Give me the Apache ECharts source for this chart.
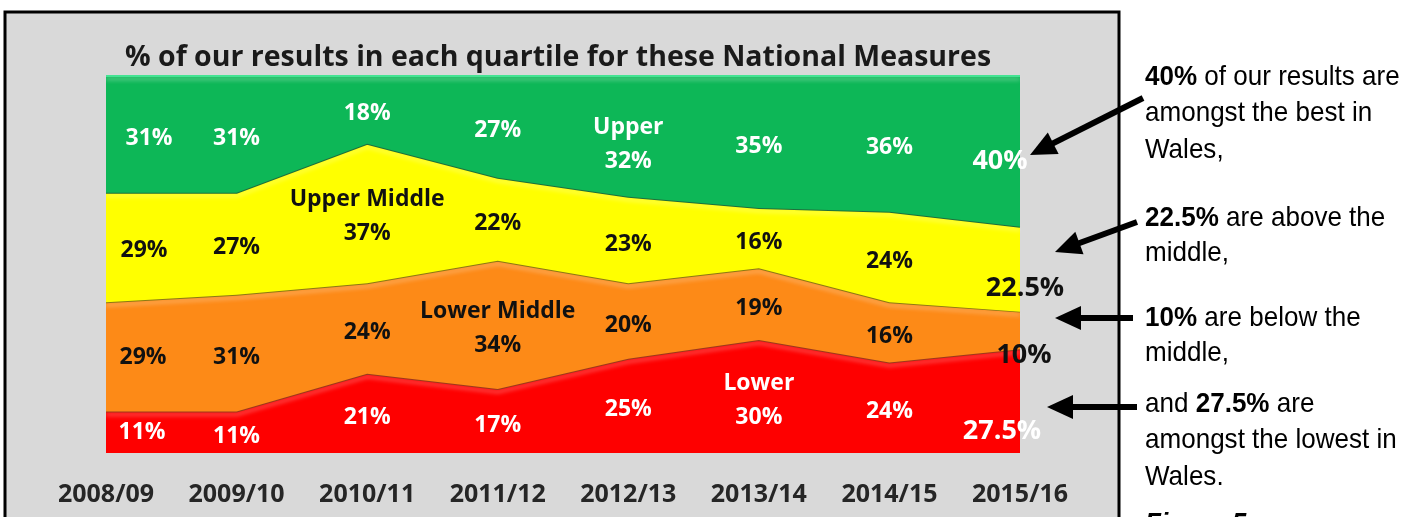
<!DOCTYPE html>
<html>
<head>
<meta charset="utf-8">
<script src="https://cdn.jsdelivr.net/npm/echarts@6/dist/echarts.min.js"></script>
<style>
  html, body { margin: 0; padding: 0; background: #fff; }
  #chart { width: 1416px; height: 517px; }
</style>
</head>
<body>
<div id="chart"></div>
<script>
// data
var years = ['2008/09', '2009/10', '2010/11', '2011/12', '2012/13', '2013/14', '2014/15', '2015/16'];
var lower = [11, 11, 21, 17, 25, 30, 24, 27.5];
var lowerMiddle = [29, 31, 24, 34, 20, 19, 16, 10];
var upperMiddle = [29, 27, 37, 22, 23, 16, 24, 22.5];
var upper = [31, 31, 18, 27, 32, 35, 36, 40];
var bandNames = ['Lower', 'Lower Middle', 'Upper Middle', 'Upper'];
var nameAt = [5, 3, 2, 4];   // category where the band's name is written

var bands = [lower, lowerMiddle, upperMiddle, upper];
var fills = ['#fe0000', '#fd8a17', '#ffff00', '#0db757'];
var edges = ['#9c3a1c', '#8c7a14', '#1f6e3c', '#45e393'];
var labelColors = ['#ffffff', '#111111', '#111111', '#ffffff'];
var firstOffset = [[36, 0], [37, 1], [38, 3], [43, 4]];
var lastOffset = [[-18, 30], [4, 25], [5, 19], [-20, 10]];
var nameOffset = [[0, 4], [0, 4], [0, 3], [0, 8]];

var font = '"Open Sans", Lato, sans-serif';
var noteFont = '"Liberation Sans Narrow", "Liberation Sans", Arial, sans-serif';

var series = [];
bands.forEach(function (vals, k) {
  series.push({
    name: bandNames[k],
    type: 'line',
    stack: 'all',
    symbol: 'none',
    data: vals,
    lineStyle: {
      color: edges[k], width: 2,
      shadowColor: 'rgba(255,255,255,0.45)', shadowBlur: 4, shadowOffsetY: 3
    },
    areaStyle: { color: fills[k], opacity: 1 },
    z: 2 + k
  });
});

// label points in the middle of each band
bands.forEach(function (vals, k) {
  var pts = vals.map(function (v, i) {
    var base = 0;
    for (var j = 0; j < k; j++) base += bands[j][i];
    var item = { value: [i, base + v / 2] };
    if (i == vals.length - 1) {
      item.label = { fontSize: 27, offset: lastOffset[k] };
    } else if (i == 0) {
      item.label = { offset: firstOffset[k] };
    } else if (i == nameAt[k]) {
      item.label = { offset: nameOffset[k] };
    }
    return item;
  });
  series.push({
    type: 'scatter',
    symbolSize: 0,
    silent: true,
    data: pts,
    z: 10,
    itemStyle: { opacity: 1 },
    label: {
      show: true,
      position: 'inside',
      offset: [0, 4],
      opacity: 1,
      color: labelColors[k],
      fontFamily: font,
      fontWeight: 'bold',
      fontSize: 23,
      lineHeight: 34,
      formatter: function (p) {
        var txt = bands[k][p.dataIndex] + '%';
        return p.dataIndex == nameAt[k] ? bandNames[k] + '\n' + txt : txt;
      }
    }
  });
});

function arrow(x1, y1, x2, y2) {
  var dx = x2 - x1, dy = y2 - y1, len = Math.sqrt(dx * dx + dy * dy);
  var ux = dx / len, uy = dy / len, head = 26, half = 12;
  var bx = x2 - ux * head, by = y2 - uy * head;
  return [{
    type: 'line', z: 20,
    shape: { x1: x1, y1: y1, x2: bx + ux * 2, y2: by + uy * 2 },
    style: { stroke: '#000', lineWidth: 6 }
  }, {
    type: 'polygon', z: 20,
    shape: { points: [[x2, y2], [bx - uy * half, by + ux * half], [bx + uy * half, by - ux * half]] },
    style: { fill: '#000' }
  }];
}

function note(y, text, extra) {
  return {
    type: 'text', x: 1145, y: y - 14, z: 20, scaleX: 0.93,
    style: {
      text: text,
      font: (extra || '') + '28px ' + noteFont,
      fill: '#000',
      rich: { b: { fontWeight: 'bold', fontSize: 28, fontFamily: noteFont } }
    }
  };
}

var graphics = [{
  type: 'rect', z: -10,
  shape: { x: 5, y: 12, width: 1114, height: 520 },
  style: { fill: '#d9d9d9', stroke: '#000', lineWidth: 3 }
}];
graphics = graphics.concat(
  arrow(1143, 98, 1030, 155),
  arrow(1137, 222, 1055, 252),
  arrow(1133, 318, 1055, 318),
  arrow(1137, 407, 1047, 407)
);
graphics.push(
  note(77, '{b|40%} of our results are'),
  note(113, 'amongst the best in'),
  note(150, 'Wales,'),
  note(218, '{b|22.5%} are above the'),
  note(253, 'middle,'),
  note(318, '{b|10%} are below the'),
  note(353, 'middle,'),
  note(404, 'and {b|27.5%} are'),
  note(440, 'amongst the lowest in'),
  note(477, 'Wales.'),
  note(524, 'Figure 5', 'italic bold ')
);

var chart = echarts.init(document.getElementById('chart'));
chart.setOption({
  animation: false,
  title: {
    text: '% of our results in each quartile for these National Measures',
    left: 553,
    top: 38,
    textAlign: 'center',
    textStyle: { fontFamily: font, fontWeight: 'bold', fontSize: 28.5, color: '#1a1a1a' }
  },
  grid: { left: 106, right: 396, top: 76, bottom: 64 },
  xAxis: {
    type: 'category',
    data: years,
    boundaryGap: false,
    axisLine: { show: false },
    axisTick: { show: false },
    axisLabel: {
      margin: 29,
      interval: 0,
      fontFamily: font,
      fontWeight: 'bold',
      fontSize: 25,
      color: '#262626'
    }
  },
  yAxis: { type: 'value', min: 0, max: 100, show: false, splitLine: { show: false } },
  graphic: graphics,
  series: series
});
</script>
</body>
</html>
